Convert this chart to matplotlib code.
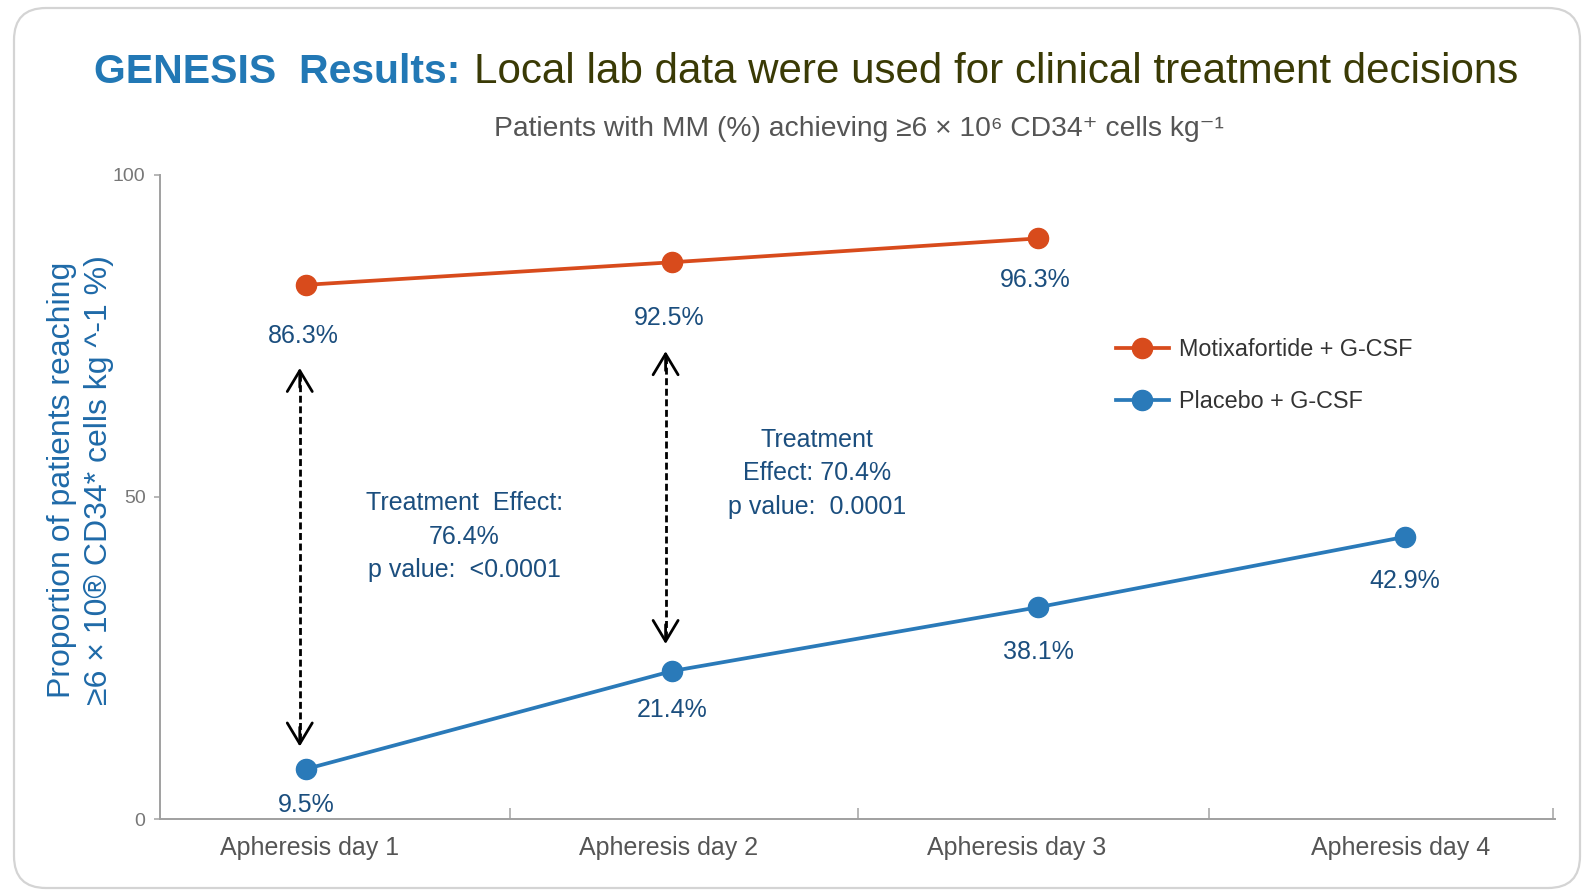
import matplotlib
matplotlib.use("Agg")
import matplotlib.pyplot as plt
from matplotlib.patches import FancyBboxPatch
from matplotlib.transforms import IdentityTransform

# data
days = ["Apheresis day 1", "Apheresis day 2", "Apheresis day 3", "Apheresis day 4"]
day_label_pos = [0.01, 0.99, 1.94, 2.99]
motix_x = [0, 1, 2]
motix_y = [82.9, 86.4, 90.1]
motix_labels = ["86.3%", "92.5%", "96.3%"]
placebo_x = [0, 1, 2, 3]
placebo_y = [7.8, 23.0, 32.9, 43.8]
placebo_labels = ["9.5%", "21.4%", "38.1%", "42.9%"]

# treatment effect arrows: (x, y_low, y_high)
arrows = [(-0.017, 11.3, 70.0), (0.982, 27.2, 72.6)]
effects = [
    "Treatment  Effect:\n76.4%\np value:  <0.0001",
    "Treatment\nEffect: 70.4%\np value:  0.0001",
]

ORANGE = "#d84b1c"
BLUE = "#2a7ab9"
TXT_BLUE = "#1b4e7e"
FONT = ["Liberation Sans", "DejaVu Sans"]

plt.rcParams["font.family"] = FONT

W, H = 1583, 894
# layout measured on a 1568x886 copy of the slide
RW, RH = 1568, 886


def fx(x):
    return x / RW


def fy(y):
    return 1 - y / RH


fig = plt.figure(figsize=(W / 100, H / 100), dpi=100)

# rounded frame around the slide
frame = FancyBboxPatch((14, 6), 1566, 880, boxstyle="round,pad=0,rounding_size=32",
                       transform=IdentityTransform(), facecolor="none",
                       edgecolor="#d4d4d4", linewidth=1.6, zorder=-1)
fig.patches.append(frame)

ax = fig.add_axes([fx(158), fy(812), fx(1540) - fx(158), fy(173) - fy(812)])
ax.set_facecolor("none")

ax.plot(motix_x, motix_y, color=ORANGE, lw=2.7, marker="o", ms=14.5,
        label="Motixafortide + G-CSF", zorder=3)
ax.plot(placebo_x, placebo_y, color=BLUE, lw=2.7, marker="o", ms=14.5,
        label="Placebo + G-CSF", zorder=3)

motix_off = [37, 40, 30]
for x, y, lab, off in zip(motix_x, motix_y, motix_labels, motix_off):
    ax.annotate(lab, (x, y), xytext=(-2, -off), textcoords="offset points",
                ha="center", va="center", fontsize=18, color=TXT_BLUE)
placebo_off = [26, 28, 32, 32]
for x, y, lab, off in zip(placebo_x, placebo_y, placebo_labels, placebo_off):
    ax.annotate(lab, (x, y), xytext=(0, -off), textcoords="offset points",
                ha="center", va="center", fontsize=18, color=TXT_BLUE)

# dashed double arrows
for x, lo, hi in arrows:
    ax.plot([x, x], [lo + 1, hi - 1], color="black", lw=2,
            linestyle=(0, (2.5, 1.3)), zorder=2)
    for tip, tail in [(hi, hi - 3), (lo, lo + 3)]:
        ax.annotate("", xy=(x, tip), xytext=(x, tail),
                    arrowprops=dict(arrowstyle="->,head_length=0.75,head_width=0.45",
                                    color="black", lw=2, mutation_scale=20,
                                    shrinkA=0, shrinkB=0))

ax.text(0.433, 43.8, effects[0], ha="center", va="center", fontsize=18,
        color=TXT_BLUE, linespacing=1.5)
ax.text(1.395, 53.7, effects[1], ha="center", va="center", fontsize=18,
        color=TXT_BLUE, linespacing=1.5)

ax.set_xlim(-0.40, 3.41)
ax.set_ylim(0, 100)
ax.set_xticks(day_label_pos)
ax.set_xticklabels(days, fontsize=18, color="#555555")
ax.set_xticks([0.557, 1.508, 2.465, 3.405], minor=True)
ax.tick_params(axis="x", which="major", length=0, pad=12)
ax.tick_params(axis="x", which="minor", direction="in", length=8, color="#aaaaaa", width=1.2)
ax.set_yticks([0, 50, 100])
ax.tick_params(axis="y", labelsize=14, labelcolor="#777777", length=4,
               color="#aaaaaa", width=1.2, pad=6)
for s in ["top", "right"]:
    ax.spines[s].set_visible(False)
for s in ["left", "bottom"]:
    ax.spines[s].set_color("#a0a0a0")
    ax.spines[s].set_linewidth(1.4)

leg = ax.legend(loc="upper left", bbox_to_anchor=(fx(1105), fy(335)),
                bbox_transform=fig.transFigure, frameon=False, fontsize=16.8,
                handlelength=2.3, handletextpad=0.4, labelspacing=1.25,
                borderpad=0, borderaxespad=0)
for t in leg.get_texts():
    t.set_color("#333333")

# y label
fig.text(fx(80), fy(476),
         "Proportion of patients reaching\n\u22656 \u00d7 10\u00ae CD34* cells kg ^-1 %)",
         rotation=90, ha="center", va="center", fontsize=23, color="#1f6aa8",
         linespacing=1.32, multialignment="center")

# subtitle
fig.text(fx(851), fy(128),
         "Patients with MM (%) achieving \u22656 \u00d7 10\u2076 CD34\u207a cells kg\u207b\u00b9",
         ha="center", va="center", fontsize=20.3, color="#555555")

# title in two colours
t1 = fig.text(fx(93), fy(71), "GENESIS  Results:", ha="left", va="center",
              fontsize=29.5, fontweight="bold", color="#2278b5")
fig.canvas.draw()
bb = t1.get_window_extent()
fig.text((bb.x1 + 14) / W, fy(71), "Local lab data were used for clinical treatment decisions",
         ha="left", va="center", fontsize=30.3, color="#3a3a05")

fig.savefig("out.png", dpi=100)
